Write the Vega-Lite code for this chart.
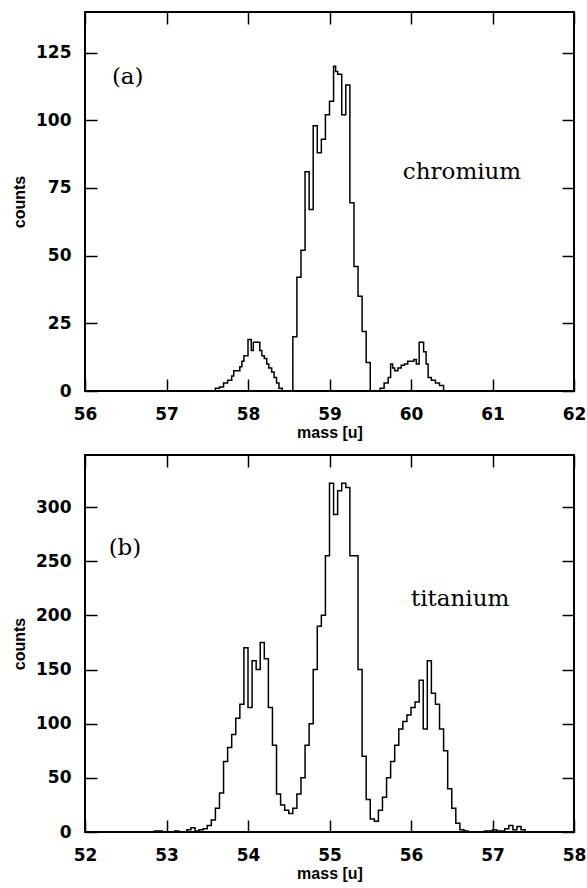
{
  "$schema": "https://vega.github.io/schema/vega-lite/v6.json",
  "background": "white",
  "padding": {"left": 10, "top": 10, "right": 0, "bottom": 4},
  "spacing": 12,
  "config": {
    "view": {"stroke": "black", "strokeWidth": 2},
    "axis": {
      "domain": false, "grid": false, "ticks": true,
      "tickColor": "black", "tickWidth": 1.5, "tickSize": -12,
      "labelFont": "DejaVu Sans", "labelFontWeight": "bold", "labelFontSize": 17, "labelColor": "black",
      "titleFont": "Liberation Sans", "titleFontWeight": "bold", "titleFontSize": 16, "titleColor": "black",
      "labelFlush": false, "labelOverlap": false
    }
  },
  "datasets": {
    "chromium": [
      {"mass": 57.55, "counts": 0}, {"mass": 57.6, "counts": 1}, {"mass": 57.65, "counts": 1.5},
      {"mass": 57.7, "counts": 3}, {"mass": 57.75, "counts": 4}, {"mass": 57.8, "counts": 5.5},
      {"mass": 57.825, "counts": 7.5}, {"mass": 57.9, "counts": 9}, {"mass": 57.925, "counts": 11},
      {"mass": 57.95, "counts": 13}, {"mass": 58.0, "counts": 19}, {"mass": 58.04, "counts": 15},
      {"mass": 58.065, "counts": 18}, {"mass": 58.145, "counts": 15}, {"mass": 58.17, "counts": 13},
      {"mass": 58.2, "counts": 12}, {"mass": 58.23, "counts": 10}, {"mass": 58.255, "counts": 8.5},
      {"mass": 58.29, "counts": 7}, {"mass": 58.32, "counts": 5}, {"mass": 58.35, "counts": 3},
      {"mass": 58.38, "counts": 1}, {"mass": 58.42, "counts": 0}, {"mass": 58.55, "counts": 20},
      {"mass": 58.6, "counts": 42}, {"mass": 58.65, "counts": 52}, {"mass": 58.7, "counts": 81},
      {"mass": 58.75, "counts": 67}, {"mass": 58.8, "counts": 98}, {"mass": 58.85, "counts": 88},
      {"mass": 58.9, "counts": 93}, {"mass": 58.95, "counts": 102}, {"mass": 59.0, "counts": 107},
      {"mass": 59.05, "counts": 120}, {"mass": 59.075, "counts": 118}, {"mass": 59.1, "counts": 117},
      {"mass": 59.15, "counts": 102}, {"mass": 59.2, "counts": 113}, {"mass": 59.25, "counts": 69.5},
      {"mass": 59.3, "counts": 46}, {"mass": 59.35, "counts": 35}, {"mass": 59.4, "counts": 22},
      {"mass": 59.45, "counts": 10.5}, {"mass": 59.5, "counts": 0}, {"mass": 59.62, "counts": 1},
      {"mass": 59.67, "counts": 3}, {"mass": 59.72, "counts": 5}, {"mass": 59.75, "counts": 10},
      {"mass": 59.775, "counts": 8.5}, {"mass": 59.8, "counts": 7.5}, {"mass": 59.84, "counts": 8.5},
      {"mass": 59.88, "counts": 9.5}, {"mass": 59.92, "counts": 10}, {"mass": 59.96, "counts": 11},
      {"mass": 60.035, "counts": 11.6}, {"mass": 60.065, "counts": 10}, {"mass": 60.1, "counts": 18},
      {"mass": 60.155, "counts": 14.5}, {"mass": 60.185, "counts": 10}, {"mass": 60.21, "counts": 5},
      {"mass": 60.25, "counts": 4}, {"mass": 60.3, "counts": 3}, {"mass": 60.35, "counts": 2},
      {"mass": 60.4, "counts": 0}
    ],
    "titanium": [
      {"mass": 52.0, "counts": 0}, {"mass": 52.85, "counts": 1}, {"mass": 52.95, "counts": 0},
      {"mass": 53.1, "counts": 1}, {"mass": 53.15, "counts": 0}, {"mass": 53.25, "counts": 2},
      {"mass": 53.3, "counts": 4}, {"mass": 53.35, "counts": 1}, {"mass": 53.4, "counts": 2},
      {"mass": 53.45, "counts": 3}, {"mass": 53.5, "counts": 6}, {"mass": 53.55, "counts": 11},
      {"mass": 53.6, "counts": 22}, {"mass": 53.65, "counts": 36}, {"mass": 53.7, "counts": 65},
      {"mass": 53.75, "counts": 78}, {"mass": 53.8, "counts": 90}, {"mass": 53.85, "counts": 105},
      {"mass": 53.9, "counts": 118}, {"mass": 53.95, "counts": 170}, {"mass": 54.0, "counts": 115},
      {"mass": 54.05, "counts": 158}, {"mass": 54.1, "counts": 150}, {"mass": 54.15, "counts": 175},
      {"mass": 54.2, "counts": 160}, {"mass": 54.25, "counts": 115}, {"mass": 54.3, "counts": 80},
      {"mass": 54.35, "counts": 35}, {"mass": 54.4, "counts": 25}, {"mass": 54.45, "counts": 20},
      {"mass": 54.5, "counts": 17}, {"mass": 54.55, "counts": 22}, {"mass": 54.6, "counts": 35},
      {"mass": 54.65, "counts": 50}, {"mass": 54.7, "counts": 80}, {"mass": 54.75, "counts": 100},
      {"mass": 54.8, "counts": 150}, {"mass": 54.85, "counts": 190}, {"mass": 54.9, "counts": 200},
      {"mass": 54.95, "counts": 255}, {"mass": 55.0, "counts": 322}, {"mass": 55.05, "counts": 293},
      {"mass": 55.1, "counts": 315}, {"mass": 55.15, "counts": 322}, {"mass": 55.2, "counts": 318},
      {"mass": 55.25, "counts": 255}, {"mass": 55.3, "counts": 255}, {"mass": 55.35, "counts": 150},
      {"mass": 55.4, "counts": 70}, {"mass": 55.45, "counts": 30}, {"mass": 55.5, "counts": 12},
      {"mass": 55.55, "counts": 10}, {"mass": 55.6, "counts": 20}, {"mass": 55.65, "counts": 32},
      {"mass": 55.7, "counts": 50}, {"mass": 55.75, "counts": 65}, {"mass": 55.8, "counts": 80},
      {"mass": 55.85, "counts": 95}, {"mass": 55.9, "counts": 102}, {"mass": 55.95, "counts": 108},
      {"mass": 56.0, "counts": 115}, {"mass": 56.05, "counts": 120}, {"mass": 56.1, "counts": 140},
      {"mass": 56.15, "counts": 95}, {"mass": 56.2, "counts": 158}, {"mass": 56.25, "counts": 128},
      {"mass": 56.3, "counts": 118}, {"mass": 56.35, "counts": 95}, {"mass": 56.4, "counts": 75},
      {"mass": 56.45, "counts": 40}, {"mass": 56.5, "counts": 22}, {"mass": 56.55, "counts": 8},
      {"mass": 56.6, "counts": 2}, {"mass": 56.65, "counts": 1}, {"mass": 56.7, "counts": 0},
      {"mass": 56.9, "counts": 1}, {"mass": 57.0, "counts": 2}, {"mass": 57.05, "counts": 1},
      {"mass": 57.15, "counts": 3}, {"mass": 57.2, "counts": 6}, {"mass": 57.25, "counts": 2},
      {"mass": 57.3, "counts": 5}, {"mass": 57.35, "counts": 2}, {"mass": 57.4, "counts": 0},
      {"mass": 58.0, "counts": 0}
    ]
  },
  "vconcat": [
    {
      "width": 489,
      "height": 379,
      "layer": [
        {
          "data": {"name": "chromium"},
          "mark": {"type": "line", "interpolate": "step-after", "color": "black", "strokeWidth": 1.5},
          "encoding": {
            "x": {"field": "mass", "type": "quantitative",
                  "scale": {"domain": [56, 62], "nice": false, "zero": false},
                  "axis": {"orient": "bottom", "values": [56, 57, 58, 59, 60, 61, 62], "title": "mass [u]", "labelPadding": 27, "titlePadding": 2}},
            "y": {"field": "counts", "type": "quantitative",
                  "scale": {"domain": [0, 140], "nice": false},
                  "axis": {"orient": "left", "values": [0, 25, 50, 75, 100, 125], "title": "counts", "labelPadding": 26, "titlePadding": 8}}
          }
        },
        {
          "data": {"values": [{"label": "(a)"}]},
          "mark": {"type": "text", "align": "left", "baseline": "middle", "font": "DejaVu Serif", "fontSize": 23, "color": "black"},
          "encoding": {
            "x": {"datum": 56.33, "type": "quantitative", "axis": null},
            "y": {"datum": 116, "type": "quantitative", "axis": null},
            "text": {"field": "label"}
          }
        },
        {
          "data": {"values": [{"label": "chromium"}]},
          "mark": {"type": "text", "align": "left", "baseline": "middle", "font": "DejaVu Serif", "fontSize": 23, "color": "black"},
          "encoding": {
            "x": {"datum": 59.9, "type": "quantitative", "axis": null},
            "y": {"datum": 81, "type": "quantitative", "axis": null},
            "text": {"field": "label"}
          }
        },
        {
          "data": {"values": [{}]},
          "mark": {"type": "point", "opacity": 0},
          "encoding": {
            "x": {"datum": 56, "type": "quantitative",
                  "axis": {"orient": "top", "values": [56, 57, 58, 59, 60, 61, 62], "labels": false, "title": null}},
            "y": {"datum": 0, "type": "quantitative",
                  "axis": {"orient": "right", "values": [0, 25, 50, 75, 100, 125], "labels": false, "title": null}}
          }
        }
      ],
      "resolve": {"axis": {"x": "independent", "y": "independent"}}
    },
    {
      "width": 489,
      "height": 377,
      "layer": [
        {
          "data": {"name": "titanium"},
          "mark": {"type": "line", "interpolate": "step-after", "color": "black", "strokeWidth": 1.5},
          "encoding": {
            "x": {"field": "mass", "type": "quantitative",
                  "scale": {"domain": [52, 58], "nice": false, "zero": false},
                  "axis": {"orient": "bottom", "values": [52, 53, 54, 55, 56, 57, 58], "title": "mass [u]", "labelPadding": 27, "titlePadding": 2}},
            "y": {"field": "counts", "type": "quantitative",
                  "scale": {"domain": [0, 348], "nice": false},
                  "axis": {"orient": "left", "values": [0, 50, 100, 150, 200, 250, 300], "title": "counts", "labelPadding": 26, "titlePadding": 8}}
          }
        },
        {
          "data": {"values": [{"label": "(b)"}]},
          "mark": {"type": "text", "align": "left", "baseline": "middle", "font": "DejaVu Serif", "fontSize": 23, "color": "black"},
          "encoding": {
            "x": {"datum": 52.29, "type": "quantitative", "axis": null},
            "y": {"datum": 262, "type": "quantitative", "axis": null},
            "text": {"field": "label"}
          }
        },
        {
          "data": {"values": [{"label": "titanium"}]},
          "mark": {"type": "text", "align": "left", "baseline": "middle", "font": "DejaVu Serif", "fontSize": 23, "color": "black"},
          "encoding": {
            "x": {"datum": 56.0, "type": "quantitative", "axis": null},
            "y": {"datum": 215, "type": "quantitative", "axis": null},
            "text": {"field": "label"}
          }
        },
        {
          "data": {"values": [{}]},
          "mark": {"type": "point", "opacity": 0},
          "encoding": {
            "x": {"datum": 52, "type": "quantitative",
                  "axis": {"orient": "top", "values": [52, 53, 54, 55, 56, 57, 58], "labels": false, "title": null}},
            "y": {"datum": 0, "type": "quantitative",
                  "axis": {"orient": "right", "values": [0, 50, 100, 150, 200, 250, 300], "labels": false, "title": null}}
          }
        }
      ],
      "resolve": {"axis": {"x": "independent", "y": "independent"}}
    }
  ]
}
